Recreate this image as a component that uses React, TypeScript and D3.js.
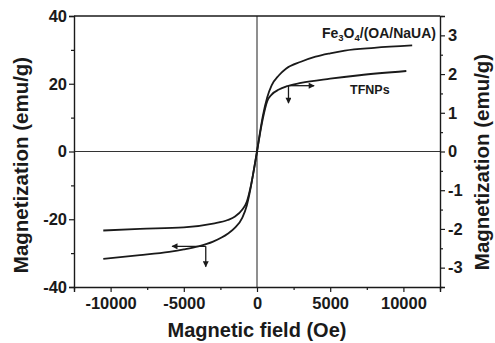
import { useEffect, useRef } from 'react';
import * as d3 from 'd3';

// Fe3O4/(OA/NaUA) loop, left axis (emu/g)
const feField = [-10500, -8000, -6000, -5000, -4000, -3000, -2000, -1500, -1000, -700, -400, -200, 0, 200, 400, 700, 1000, 1500, 2000, 3000, 4000, 5000, 6000, 8000, 10600];
const feMag = [-31.7, -30.6, -29.6, -28.9, -28.0, -26.6, -24.3, -22.5, -19.5, -16, -10, -5, 0, 5.5, 10.5, 16, 19.5, 22.5, 24.5, 26.5, 28, 29, 29.8, 30.6, 31.3];

// TFNPs loop, right axis (emu/g)
const tfField = [-10500, -8000, -5000, -3000, -2000, -1500, -1000, -700, -400, -200, 0, 200, 400, 700, 1000, 1500, 2000, 3000, 5000, 7000, 10200];
const tfMag = [-2.04, -2.0, -1.96, -1.86, -1.77, -1.68, -1.5, -1.3, -0.85, -0.45, 0, 0.45, 0.85, 1.3, 1.47, 1.6, 1.68, 1.77, 1.88, 1.97, 2.08];

const xTicks = [-10000, -5000, 0, 5000, 10000];
const leftTicks = [-40, -20, 0, 20, 40];
const rightTicks = [-3, -2, -1, 0, 1, 2, 3];

export default function App() {
  const svgRef = useRef<SVGSVGElement | null>(null);

  useEffect(() => {
    if (!svgRef.current) return;
    const svg = d3.select(svgRef.current);
    svg.selectAll('*').remove();

    const width = 495;
    const height = 343;
    const margin = { top: 16, right: 55, bottom: 56, left: 74 };
    const font = "'Liberation Sans', Arial, sans-serif";
    const ink = '#1a1a1a';

    svg.attr('width', width).attr('height', height);

    const x = d3.scaleLinear().domain([-12500, 12500]).range([margin.left, width - margin.right]);
    const yL = d3.scaleLinear().domain([-40, 40]).range([height - margin.bottom, margin.top]);
    const yR = d3.scaleLinear().domain([-3.5, 3.5]).range([height - margin.bottom, margin.top]);

    const x0 = margin.left, x1 = width - margin.right;
    const y0 = margin.top, y1 = height - margin.bottom;

    // arrow marker
    svg.append('defs').append('marker')
      .attr('id', 'ah')
      .attr('viewBox', '0 0 10 10')
      .attr('refX', 9).attr('refY', 5)
      .attr('markerWidth', 7).attr('markerHeight', 6)
      .attr('markerUnits', 'userSpaceOnUse')
      .attr('orient', 'auto')
      .append('path').attr('d', 'M0,0 L10,5 L0,10 Z').attr('fill', ink);

    // zero lines
    svg.append('line').attr('x1', x0).attr('x2', x1).attr('y1', yL(0)).attr('y2', yL(0))
      .attr('stroke', '#333').attr('stroke-width', 1.1);
    svg.append('line').attr('x1', x(0)).attr('x2', x(0)).attr('y1', y0).attr('y2', y1)
      .attr('stroke', '#333').attr('stroke-width', 1.1);

    // --- AXES ---
    const xAxis = svg.append('g').attr('transform', `translate(0,${y1})`)
      .call(d3.axisBottom(x).tickValues(d3.range(-12500, 12501, 2500)).tickSize(5)
        .tickFormat(d => xTicks.includes(+d) ? String(d) : ''));
    xAxis.selectAll('.tick').filter((d: any) => !xTicks.includes(d)).select('line').attr('y2', 3);

    const lAxis = svg.append('g').attr('transform', `translate(${x0},0)`)
      .call(d3.axisLeft(yL).tickValues(d3.range(-40, 41, 10)).tickSize(5)
        .tickFormat(d => leftTicks.includes(+d) ? String(d) : ''));
    lAxis.selectAll('.tick').filter((d: any) => !leftTicks.includes(d)).select('line').attr('x2', -3);

    const rAxis = svg.append('g').attr('transform', `translate(${x1},0)`)
      .call(d3.axisRight(yR).tickValues(d3.range(-3.5, 3.51, 0.5)).tickSize(5)
        .tickFormat(d => rightTicks.includes(+d) ? String(d) : ''));
    rAxis.selectAll('.tick').filter((d: any) => !rightTicks.includes(d)).select('line').attr('x2', 3);

    [xAxis, lAxis, rAxis].forEach(g => {
      g.select('.domain').attr('stroke', ink).attr('stroke-width', 1.4);
      g.selectAll('.tick line').attr('stroke', ink).attr('stroke-width', 1.2);
      g.selectAll('text').attr('font-family', font).attr('font-weight', 'bold')
        .attr('font-size', 16.5).attr('fill', ink);
    });
    xAxis.selectAll('text').attr('y', 10);
    lAxis.selectAll('text').attr('x', -7);
    rAxis.selectAll('text').attr('x', 8);

    // top frame
    svg.append('line').attr('x1', x0).attr('x2', x1).attr('y1', y0).attr('y2', y0)
      .attr('stroke', ink).attr('stroke-width', 1.4);

    // --- CURVES ---
    const lineL = d3.line<number>().x((_, i) => x(feField[i])).y(d => yL(d)).curve(d3.curveMonotoneX);
    const lineR = d3.line<number>().x((_, i) => x(tfField[i])).y(d => yR(d)).curve(d3.curveMonotoneX);
    svg.append('path').attr('d', lineL(feMag)).attr('fill', 'none').attr('stroke', ink).attr('stroke-width', 1.8);
    svg.append('path').attr('d', lineR(tfMag)).attr('fill', 'none').attr('stroke', ink).attr('stroke-width', 1.8);

    // --- ARROWS ---
    const arrow = (ax: number, ay: number, bx: number, by: number) =>
      svg.append('line').attr('x1', ax).attr('y1', ay).attr('x2', bx).attr('y2', by)
        .attr('stroke', ink).attr('stroke-width', 1.3).attr('marker-end', 'url(#ah)');
    // TFNPs -> right axis
    arrow(x(2150), yR(1.7), x(3900), yR(1.7));
    arrow(x(2150), yR(1.7), x(2150), yR(1.25));
    // Fe3O4 -> left axis
    arrow(x(-3500), yL(-28), x(-5800), yL(-28));
    arrow(x(-3500), yL(-28), x(-3500), yL(-34));

    // --- LABELS ---
    const fe = svg.append('text').attr('x', 436).attr('y', 38).attr('text-anchor', 'end')
      .attr('font-family', font).attr('font-weight', 'bold').attr('font-size', 14).attr('fill', ink);
    fe.append('tspan').text('Fe');
    fe.append('tspan').text('3').attr('font-size', 9.5).attr('dy', 3);
    fe.append('tspan').text('O').attr('dy', -3);
    fe.append('tspan').text('4').attr('font-size', 9.5).attr('dy', 3);
    fe.append('tspan').text('/(OA/NaUA)').attr('dy', -3);

    svg.append('text').attr('x', 350).attr('y', 94).text('TFNPs')
      .attr('font-family', font).attr('font-weight', 'bold').attr('font-size', 12.5).attr('fill', ink);

    svg.append('text').attr('x', x(0)).attr('y', 337).attr('text-anchor', 'middle')
      .text('Magnetic field (Oe)')
      .attr('font-family', font).attr('font-weight', 'bold').attr('font-size', 20).attr('fill', ink);

    svg.append('text').attr('transform', `translate(28,165) rotate(-90)`).attr('text-anchor', 'middle')
      .text('Magnetization (emu/g)')
      .attr('font-family', font).attr('font-weight', 'bold').attr('font-size', 20.5).attr('fill', ink);

    svg.append('text').attr('transform', `translate(489,162) rotate(-90)`).attr('text-anchor', 'middle')
      .text('Magnetization (emu/g)')
      .attr('font-family', font).attr('font-weight', 'bold').attr('font-size', 20.5).attr('fill', ink);
  }, []);

  return <svg ref={svgRef} style={{ position: 'absolute', left: 0, top: 0, background: '#fff' }}></svg>;
}
